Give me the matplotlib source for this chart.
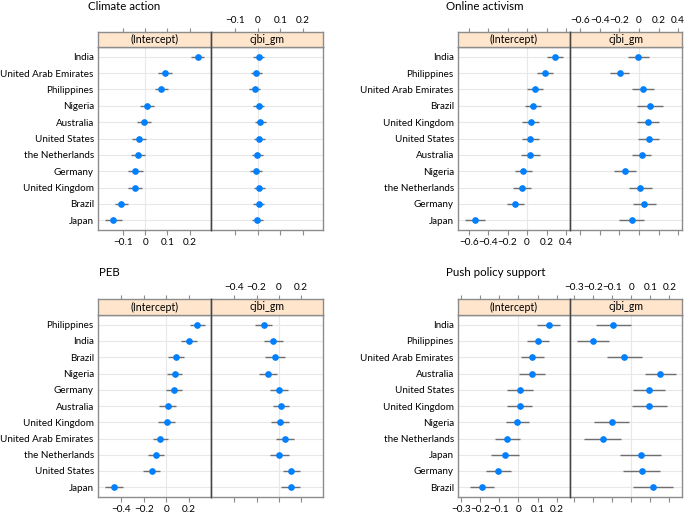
import matplotlib
matplotlib.use("Agg")
import matplotlib.pyplot as plt
from matplotlib.ticker import FuncFormatter

plt.rcParams['font.family'] = ['Lato', 'DejaVu Sans']

# ---------------- data ----------------
climate_countries = ["India", "United Arab Emirates", "Philippines", "Nigeria", "Australia",
                     "United States", "the Netherlands", "Germany", "United Kingdom", "Brazil", "Japan"]
climate_int = [0.236, 0.089, 0.072, 0.008, -0.006, -0.027, -0.033, -0.045, -0.046, -0.108, -0.144]
climate_int_se = [0.028, 0.030, 0.030, 0.031, 0.033, 0.032, 0.033, 0.033, 0.033, 0.030, 0.037]
climate_cj = [0.004, -0.008, -0.015, 0.003, 0.010, 0.007, -0.003, -0.009, 0.006, 0.003, -0.002]
climate_cj_se = [0.025, 0.025, 0.025, 0.025, 0.025, 0.025, 0.025, 0.025, 0.025, 0.025, 0.025]

online_countries = ["India", "Philippines", "United Arab Emirates", "Brazil", "United Kingdom",
                    "United States", "Australia", "Nigeria", "the Netherlands", "Germany", "Japan"]
online_int = [0.291, 0.185, 0.083, 0.062, 0.038, 0.035, 0.035, -0.037, -0.051, -0.122, -0.535]
online_int_se = [0.082, 0.080, 0.083, 0.085, 0.088, 0.090, 0.095, 0.085, 0.090, 0.089, 0.106]
online_cj = [-0.007, -0.198, 0.041, 0.113, 0.092, 0.099, 0.027, -0.143, 0.014, 0.055, -0.075]
online_cj_se = [0.109, 0.100, 0.112, 0.130, 0.115, 0.105, 0.100, 0.110, 0.120, 0.120, 0.130]

peb_countries = ["Philippines", "India", "Brazil", "Nigeria", "Germany", "Australia",
                 "United Kingdom", "United Arab Emirates", "the Netherlands", "United States", "Japan"]
peb_int = [0.278, 0.203, 0.090, 0.075, 0.069, 0.015, 0.003, -0.051, -0.090, -0.128, -0.463]
peb_int_se = [0.063, 0.072, 0.072, 0.068, 0.075, 0.075, 0.075, 0.070, 0.072, 0.075, 0.082]
peb_cj = [-0.135, -0.048, -0.033, -0.096, 0.000, 0.018, 0.012, 0.054, 0.006, 0.114, 0.108]
peb_cj_se = [0.076, 0.082, 0.090, 0.078, 0.080, 0.072, 0.080, 0.080, 0.085, 0.075, 0.085]

push_countries = ["India", "Philippines", "United Arab Emirates", "Australia", "United States",
                  "United Kingdom", "Nigeria", "the Netherlands", "Japan", "Germany", "Brazil"]
push_int = [0.159, 0.103, 0.073, 0.070, 0.009, 0.007, -0.007, -0.059, -0.071, -0.105, -0.192]
push_int_se = [0.061, 0.059, 0.059, 0.069, 0.068, 0.065, 0.061, 0.066, 0.075, 0.066, 0.062]
push_cj = [-0.095, -0.202, -0.037, 0.153, 0.091, 0.095, -0.104, -0.151, 0.049, 0.054, 0.112]
push_cj_se = [0.092, 0.086, 0.091, 0.081, 0.084, 0.094, 0.094, 0.099, 0.109, 0.097, 0.105]

panel_labels = ["(Intercept)", "cjbi_gm"]

facets = [
    dict(title="Climate action", countries=climate_countries,
         vals=[(climate_int, climate_int_se), (climate_cj, climate_cj_se)],
         xlim=[(-0.213, 0.296), (-0.209, 0.29)], ticks=[-0.1, 0, 0.1, 0.2],
         px=(98, 211, 323), py=(32, 47, 230), title_xy=(88, 6)),
    dict(title="Online activism", countries=online_countries,
         vals=[(online_int, online_int_se), (online_cj, online_cj_se)],
         xlim=[(-0.709, 0.441), (-0.706, 0.44)], ticks=[-0.6, -0.4, -0.2, 0, 0.2, 0.4],
         px=(458, 570, 682), py=(32, 47, 230), title_xy=(446, 6)),
    dict(title="PEB", countries=peb_countries,
         vals=[(peb_int, peb_int_se), (peb_cj, peb_cj_se)],
         xlim=[(-0.606, 0.398), (-0.61, 0.398)], ticks=[-0.4, -0.2, 0, 0.2],
         px=(98, 211, 323), py=(299, 315, 497), title_xy=(99, 272)),
    dict(title="Push policy support", countries=push_countries,
         vals=[(push_int, push_int_se), (push_cj, push_cj_se)],
         xlim=[(-0.317, 0.27), (-0.323, 0.267)], ticks=[-0.3, -0.2, -0.1, 0, 0.1, 0.2],
         px=(458, 570, 682), py=(299, 315, 497), title_xy=(446, 272)),
]

W, H = 685, 514
fig = plt.figure(figsize=(W / 100, H / 100), dpi=100)

def fmt(v, pos):
    if abs(v) < 1e-9:
        return "0"
    s = ("%g" % v)
    return s.replace("-", "\u2212")

formatter = FuncFormatter(fmt)
border = "#8c8c8c"
grid_c = "#e8e8e8"
dot_c = "#0080ff"
bar_c = "#6e6e6e"
strip_c = "#ffe5cc"
fs_tick = 7.2
fs_lab = 7.15
fs_strip = 7.6

for f in facets:
    x0, xm, x1 = f["px"]
    yt, ys, yb = f["py"]
    n = len(f["countries"])
    ypos = list(range(n))
    for j, (lo, hi) in enumerate([(x0, xm), (xm, x1)]):
        ax = fig.add_axes([lo / W, 1 - yb / H, (hi - lo) / W, (yb - ys) / H])
        sax = fig.add_axes([lo / W, 1 - ys / H, (hi - lo) / W, (ys - yt) / H])
        vals, se = f["vals"][j]
        xl = f["xlim"][j]
        # grid
        for yy in ypos:
            ax.axhline(yy, color=grid_c, lw=0.8, zorder=0)
        ax.axvline(0, color=grid_c, lw=0.8, zorder=0)
        ax.hlines(ypos, [v - s for v, s in zip(vals, se)], [v + s for v, s in zip(vals, se)],
                  color=bar_c, lw=1.0, zorder=2)
        ax.plot(vals, ypos, "o", color=dot_c, ms=3.8, mec=dot_c, zorder=3)
        ax.set_xlim(*xl)
        ax.set_ylim(n - 1 + 0.6, -0.6)
        ax.set_xticks(f["ticks"])
        ax.xaxis.set_major_formatter(formatter)
        ax.tick_params(axis="x", direction="out", length=3.5, width=0.8, color=border,
                       labelsize=fs_tick, pad=2, labelbottom=(j == 0))
        if j == 0:
            ax.set_yticks(ypos)
            ax.set_yticklabels(f["countries"])
            ax.tick_params(axis="y", length=0, pad=3, labelsize=fs_lab)
        else:
            ax.set_yticks([])
        for sp in ax.spines.values():
            sp.set_color(border)
            sp.set_linewidth(1.0)
        # strip
        sax.set_facecolor(strip_c)
        sax.set_xlim(*xl)
        sax.set_ylim(0, 1)
        sax.set_yticks([])
        sax.set_xticks(f["ticks"])
        sax.xaxis.set_major_formatter(formatter)
        sax.xaxis.set_ticks_position("top")
        sax.tick_params(axis="x", direction="out", length=3.0, width=0.8, color=border,
                        labelsize=fs_tick, pad=2, labeltop=(j == 1), labelbottom=False)
        for sp in sax.spines.values():
            sp.set_color(border)
            sp.set_linewidth(1.0)
        sax.text(0.5, 0.5, panel_labels[j], transform=sax.transAxes, ha="center", va="center",
                 fontsize=fs_strip)
    # darker divider
    fig.add_artist(plt.Line2D([xm / W, xm / W], [1 - yb / H, 1 - yt / H], color="#444444", lw=1.0))
    tx, ty = f["title_xy"]
    fig.text(tx / W, 1 - ty / H, f["title"], ha="left", va="center", fontsize=8.3)

fig.savefig("out.png", dpi=100)
